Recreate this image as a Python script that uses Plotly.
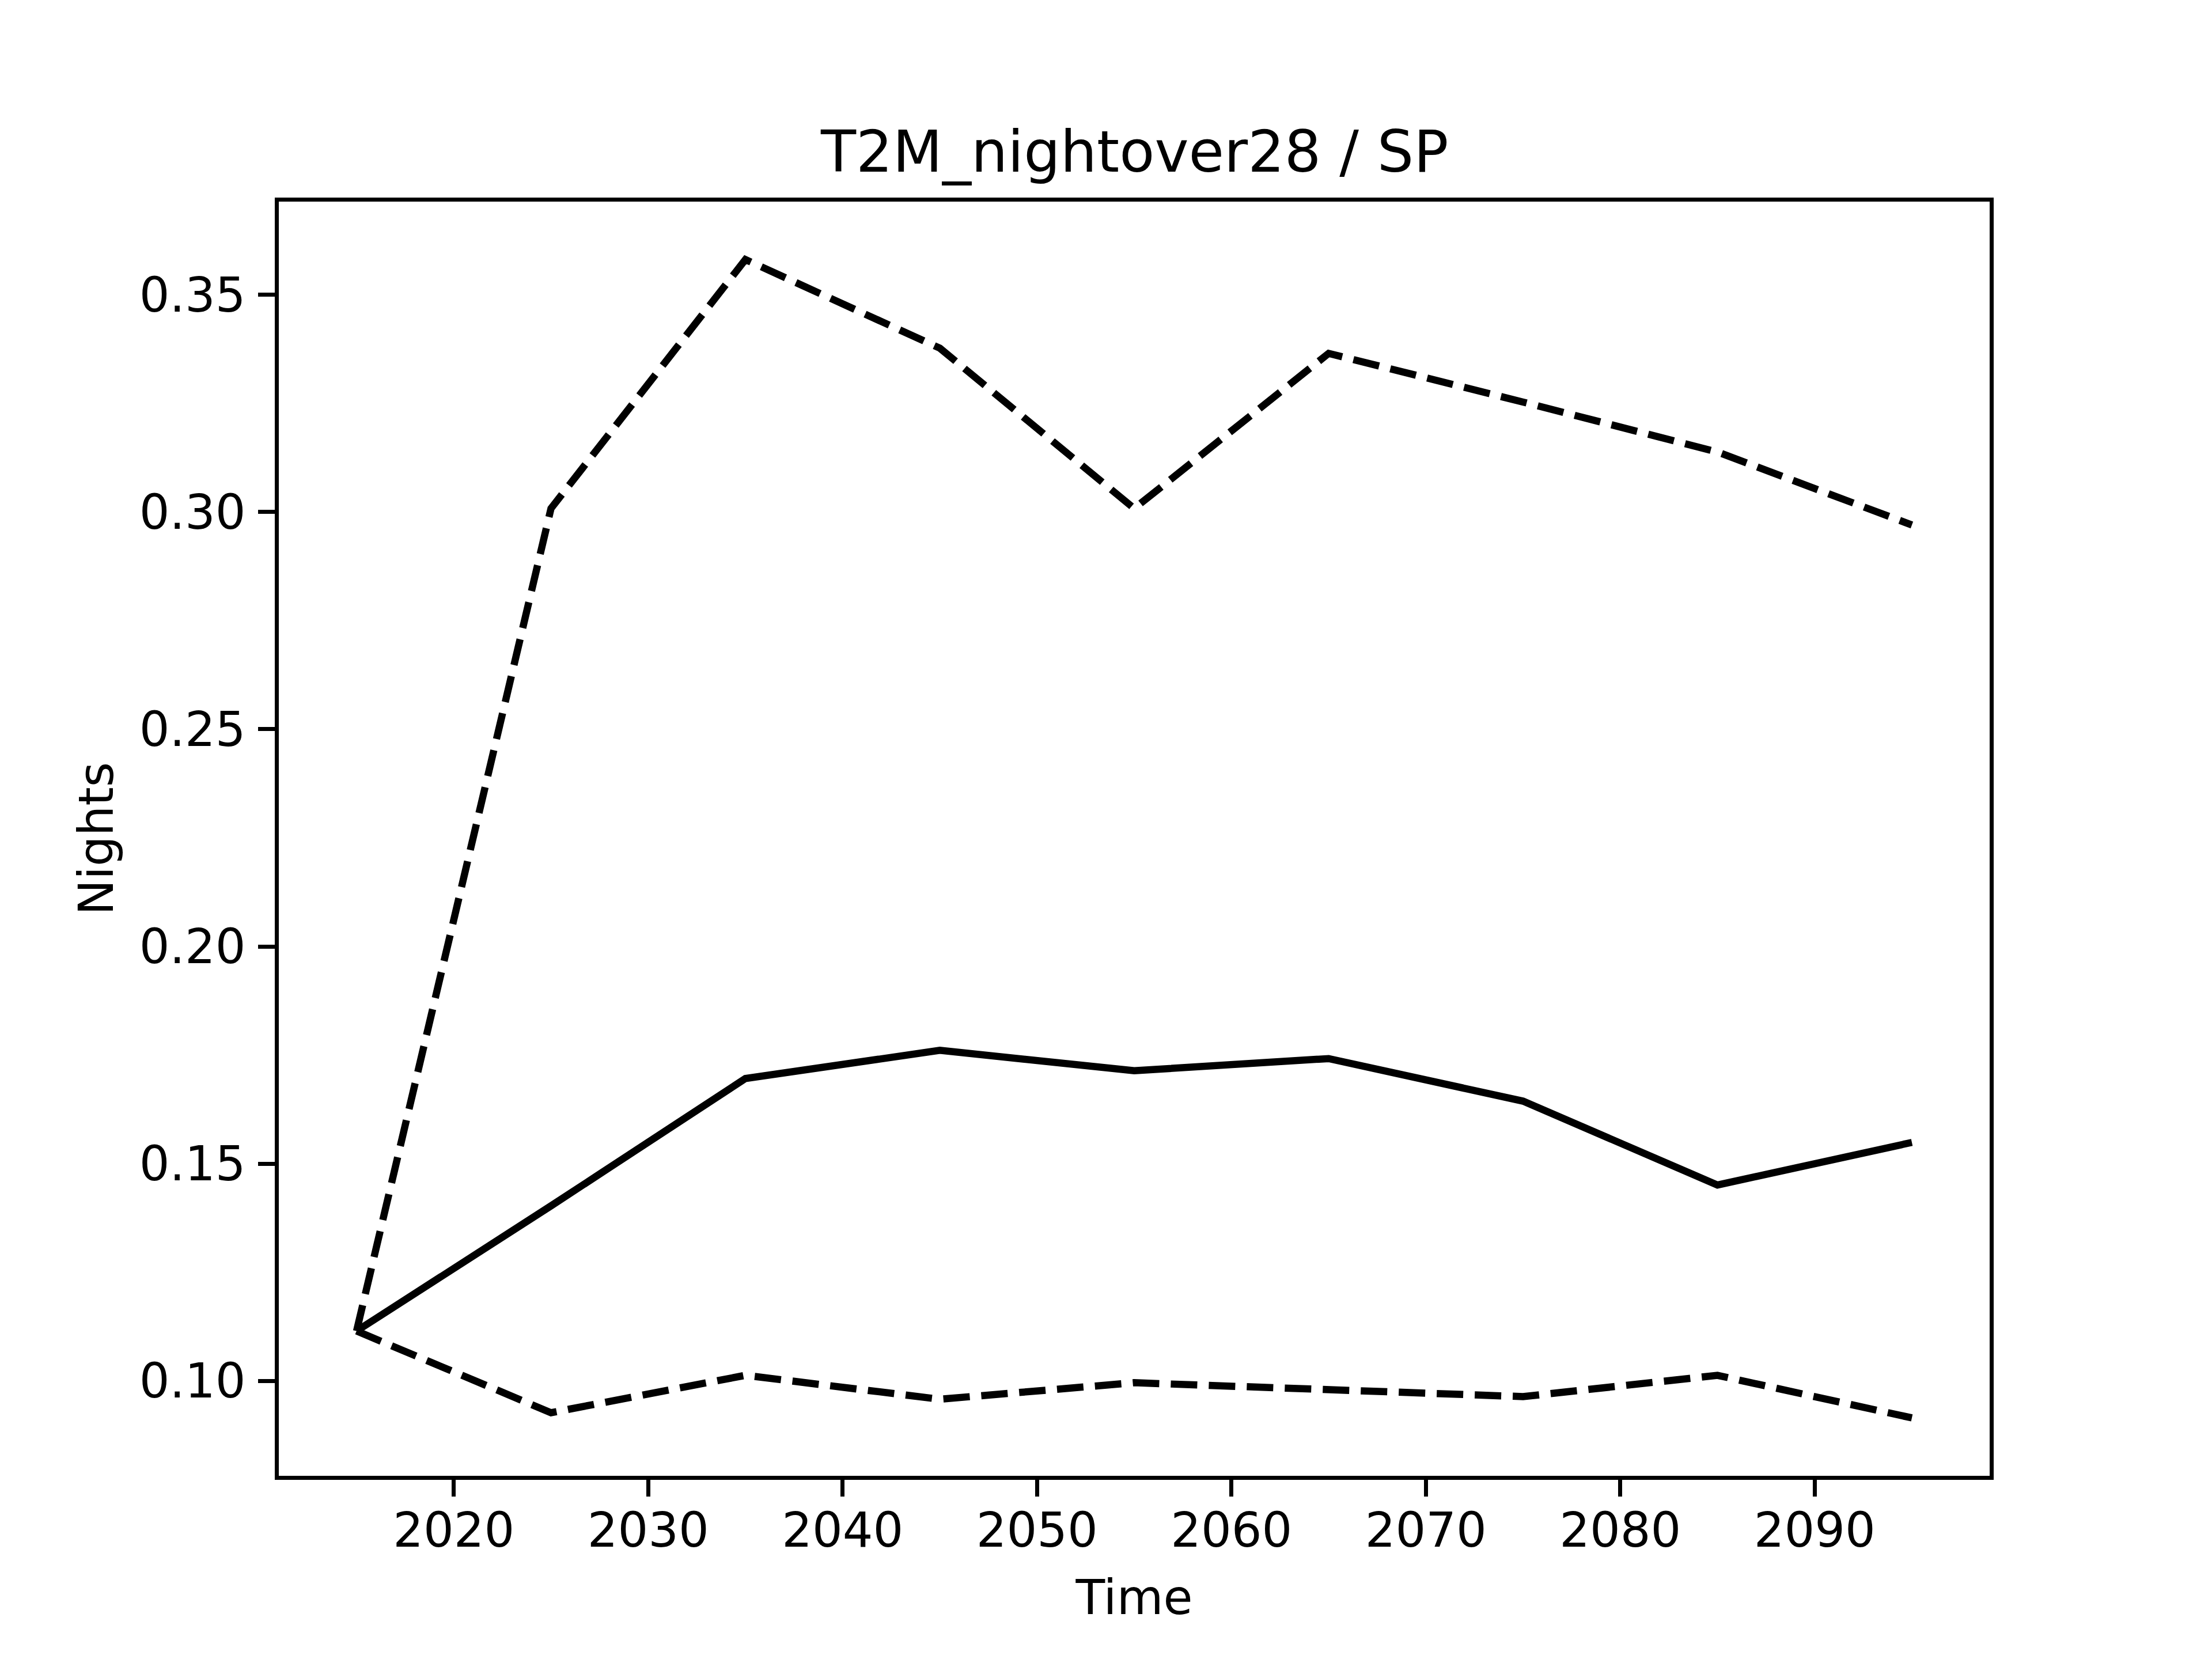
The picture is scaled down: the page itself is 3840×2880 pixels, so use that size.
import plotly.graph_objects as go

years = [2015, 2025, 2035, 2045, 2055, 2065, 2075, 2085, 2095]
median = [0.1115, 0.1403, 0.1696, 0.1761, 0.1714, 0.1742, 0.1644, 0.1451, 0.1549]
upper = [0.1115, 0.3008, 0.3581, 0.3377, 0.3008, 0.3365, 0.3253, 0.3138, 0.2970]
lower = [0.1115, 0.0927, 0.1013, 0.0958, 0.0996, 0.0979, 0.0964, 0.1013, 0.0915]
x_ticks = [2020, 2030, 2040, 2050, 2060, 2070, 2080, 2090]
y_ticks = [0.10, 0.15, 0.20, 0.25, 0.30, 0.35]
title_text = "T2M_nightover28 / SP"
x_label = "Time"
y_label = "Nights"

W, H = 3840, 2880
LW = 12.5
DASH = "46px,20px"
FONT = "DejaVu Sans"

fig = go.Figure()
fig.add_trace(go.Scatter(x=years, y=median, mode="lines",
                         line=dict(color="black", width=LW), name="median"))
fig.add_trace(go.Scatter(x=years, y=upper, mode="lines",
                         line=dict(color="black", width=LW, dash=DASH), name="upper"))
fig.add_trace(go.Scatter(x=years, y=lower, mode="lines",
                         line=dict(color="black", width=LW, dash=DASH), name="lower"))

ymin = min(lower + median + upper)
ymax = max(lower + median + upper)
pad = 0.05 * (ymax - ymin)
xpad = 0.05 * (max(years) - min(years))

axis_common = dict(
    showline=True, linecolor="black", linewidth=6.7, mirror=True,
    ticks="outside", ticklen=29, tickwidth=6.7, tickcolor="black",
    showgrid=False, zeroline=False,
    tickfont=dict(family=FONT, size=83, color="black"),
)

fig.update_layout(
    width=W, height=H,
    paper_bgcolor="white", plot_bgcolor="white",
    showlegend=False,
    margin=dict(l=476, r=394, t=342, b=326, pad=0),
    xaxis=dict(range=[min(years) - xpad, max(years) + xpad],
               tickvals=x_ticks, ticktext=[str(v) for v in x_ticks],
               ticklabelstandoff=-12,
               title=dict(text=x_label, font=dict(family=FONT, size=83, color="black"), standoff=42),
               **axis_common),
    yaxis=dict(range=[ymin - pad, ymax + pad],
               tickvals=y_ticks, ticktext=[f"{v:.2f}" for v in y_ticks],
               ticklabelstandoff=5,
               title=dict(text=y_label, font=dict(family=FONT, size=83, color="black"), standoff=20),
               **axis_common),
    annotations=[dict(text=title_text, x=0.5, y=1, xref="paper", yref="paper",
                      xanchor="center", yanchor="bottom", yshift=26, showarrow=False,
                      font=dict(family=FONT, size=100, color="black"))],
)

fig.write_html("out.html")
